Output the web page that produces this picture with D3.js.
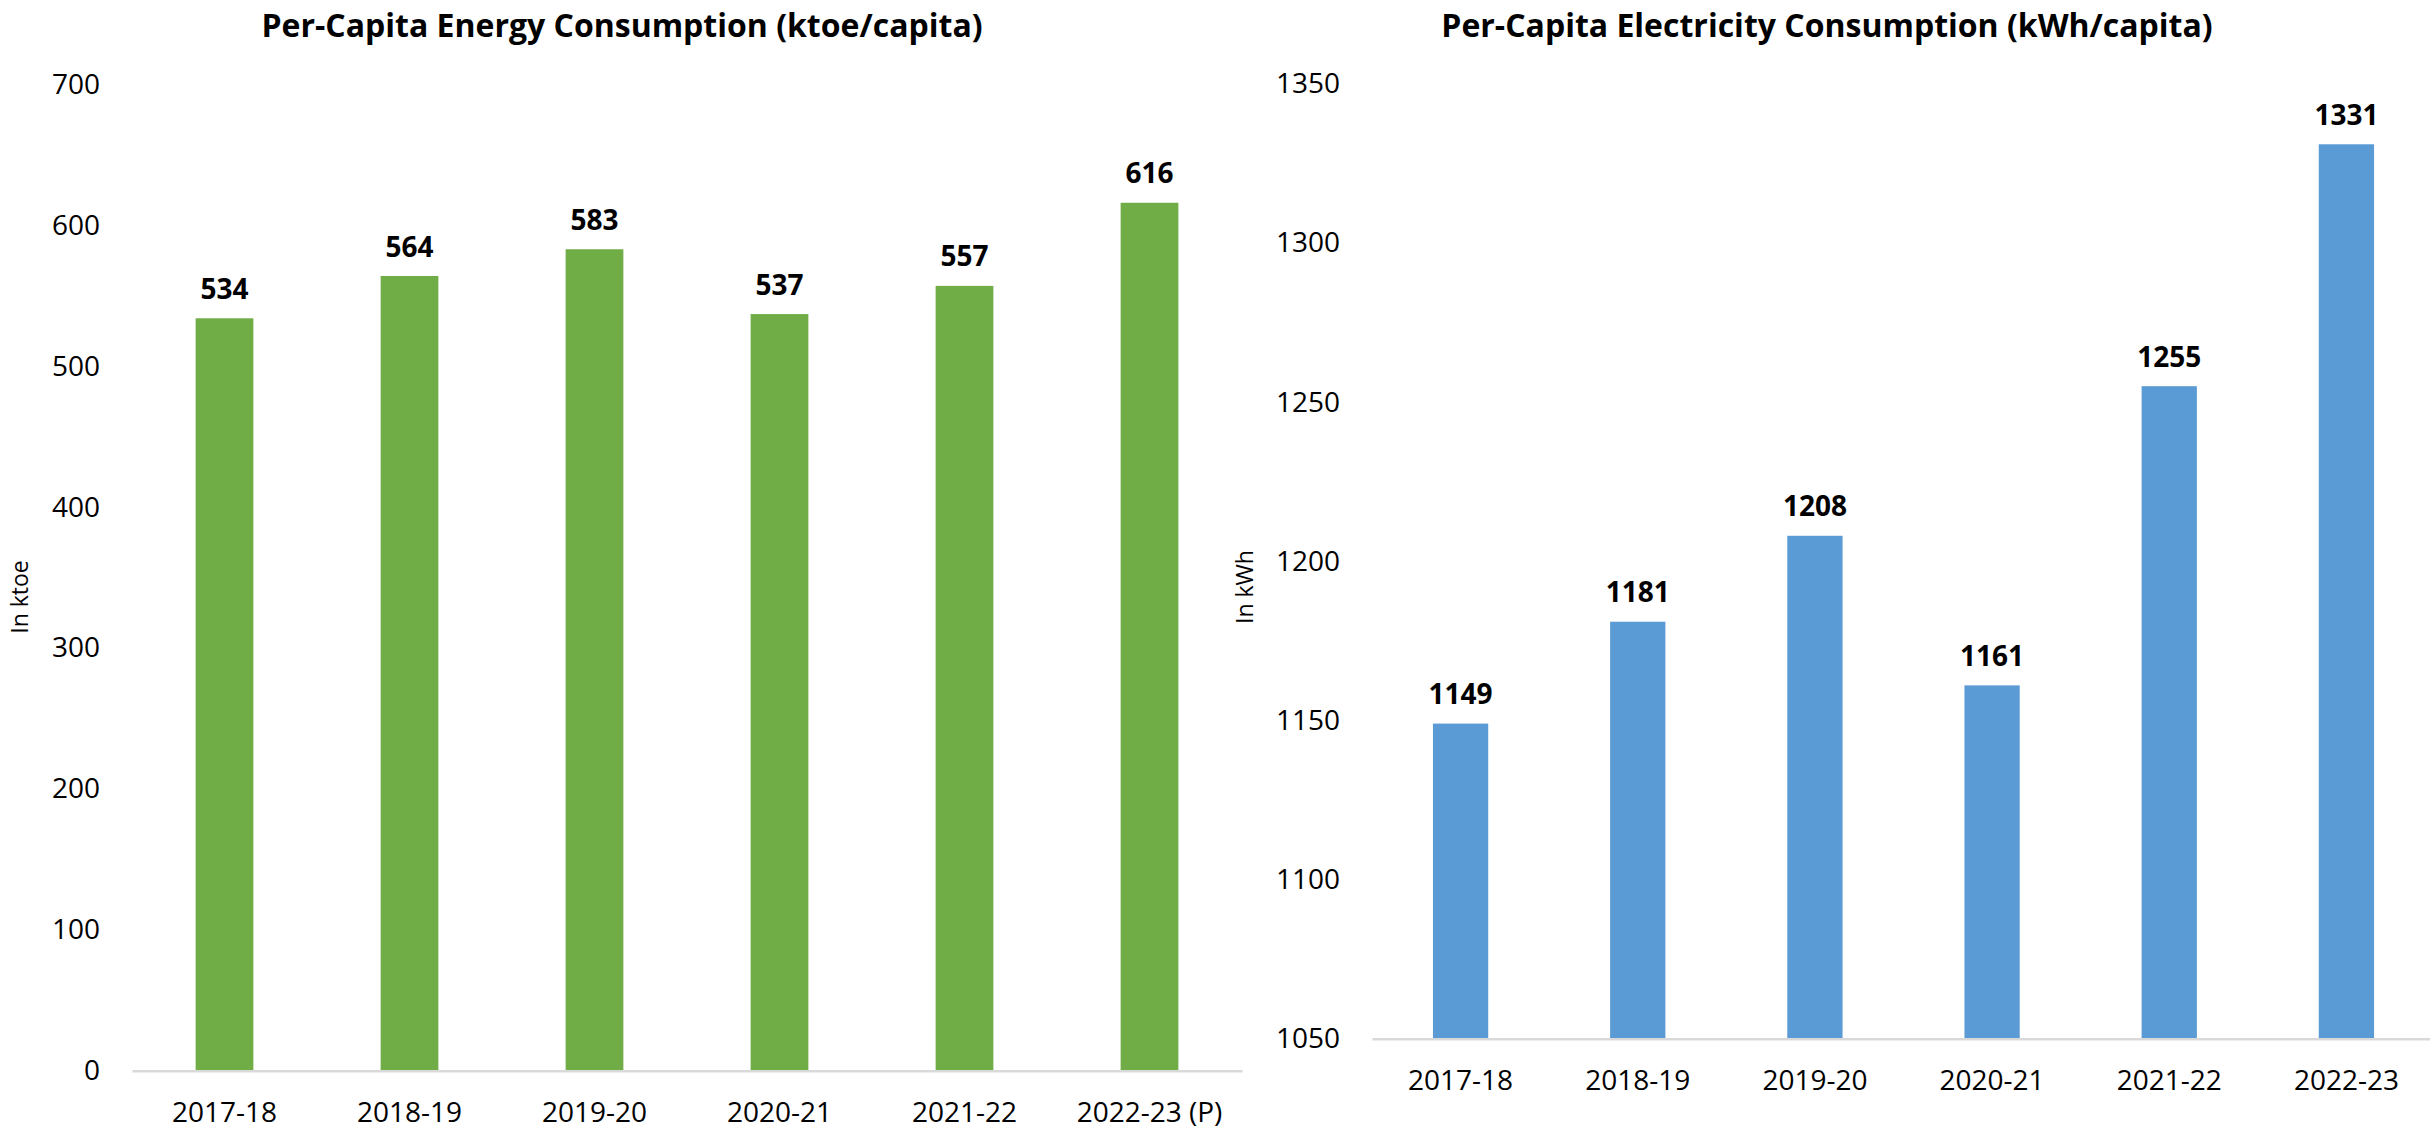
<!DOCTYPE html>
<html>
<head>
<meta charset="utf-8">
<script src="https://cdn.jsdelivr.net/npm/d3@7"></script>
<style>
  html, body { margin: 0; padding: 0; background: #fff; }
  svg { display: block; font-family: "Open Sans", "Noto Sans", sans-serif; }
</style>
</head>
<body>
<svg id="chart" width="2430" height="1129"></svg>
<script>
// Per-capita energy consumption, ktoe/capita
const energyYears = ["2017-18", "2018-19", "2019-20", "2020-21", "2021-22", "2022-23 (P)"];
const energyValues = [534, 564, 583, 537, 557, 616];
const energyTicks = [0, 100, 200, 300, 400, 500, 600, 700];

// Per-capita electricity consumption, kWh/capita
const electricityYears = ["2017-18", "2018-19", "2019-20", "2020-21", "2021-22", "2022-23"];
const electricityValues = [1149, 1181, 1208, 1161, 1255, 1331];
const electricityTicks = [1050, 1100, 1150, 1200, 1250, 1300, 1350];

const FONT = '"Open Sans", "Noto Sans", sans-serif';

const svg = d3.select("#chart");
svg.append("rect").attr("width", 2430).attr("height", 1129).attr("fill", "#fff");

function drawPanel(cfg) {
  const g = svg.append("g");

  const x = d3.scaleBand()
    .domain(cfg.categories)
    .range([cfg.x0, cfg.x1])
    .paddingInner(0.688)
    .paddingOuter(0.344);

  const y = d3.scaleLinear()
    .domain(cfg.domain)
    .range([cfg.yBase, cfg.yTop]);

  // title
  g.append("text")
    .attr("x", cfg.titleX)
    .attr("y", 37)
    .attr("text-anchor", "middle")
    .attr("font-size", 32)
    .attr("font-weight", 700)
    .attr("fill", "#000")
    .text(cfg.title);

  // value axis labels
  const yAxis = g.append("g")
    .attr("transform", `translate(${cfg.x0},0)`)
    .call(d3.axisLeft(y).tickValues(cfg.ticks).tickSize(0).tickPadding(32).tickFormat(d3.format("d")))
    .attr("font-family", FONT)
    .attr("font-size", 28);
  yAxis.select(".domain").remove();
  yAxis.selectAll("text").attr("fill", "#000");

  // axis title
  g.append("text")
    .attr("transform", `translate(${cfg.axisTitleX},${cfg.axisTitleY}) rotate(-90)`)
    .attr("text-anchor", "middle")
    .attr("font-size", 23)
    .attr("fill", "#000")
    .text(cfg.axisTitle);

  // bars
  g.selectAll("rect.bar")
    .data(cfg.values)
    .join("rect")
    .attr("class", "bar")
    .attr("x", (d, i) => x(cfg.categories[i]))
    .attr("width", x.bandwidth())
    .attr("y", d => y(d))
    .attr("height", d => y(cfg.domain[0]) - y(d))
    .attr("fill", cfg.color);

  // value labels
  g.selectAll("text.value")
    .data(cfg.values)
    .join("text")
    .attr("class", "value")
    .attr("x", (d, i) => x(cfg.categories[i]) + x.bandwidth() / 2)
    .attr("y", d => y(d) - 19.5)
    .attr("text-anchor", "middle")
    .attr("font-size", 28)
    .attr("font-weight", 700)
    .attr("fill", "#000")
    .text(d => d);

  // category axis
  const xAxis = g.append("g")
    .attr("transform", `translate(0,${cfg.yBase})`)
    .call(d3.axisBottom(x).tickSize(0).tickSizeOuter(0).tickPadding(31.4))
    .attr("font-family", FONT)
    .attr("font-size", 28);
  xAxis.select(".domain").attr("stroke", "#d9d9d9").attr("stroke-width", 2.5);
  xAxis.selectAll("text").attr("fill", "#000");
}

drawPanel({
  title: "Per-Capita Energy Consumption (ktoe/capita)",
  titleX: 622,
  axisTitle: "In ktoe",
  axisTitleX: 28,
  axisTitleY: 597,
  categories: energyYears,
  values: energyValues,
  ticks: energyTicks,
  domain: [0, 700],
  x0: 132, x1: 1242,
  yBase: 1070.7, yTop: 84.4,
  color: "#70ad47"
});

drawPanel({
  title: "Per-Capita Electricity Consumption (kWh/capita)",
  titleX: 1827,
  axisTitle: "In kWh",
  axisTitleX: 1253,
  axisTitleY: 587,
  categories: electricityYears,
  values: electricityValues,
  ticks: electricityTicks,
  domain: [1050, 1350],
  x0: 1372, x1: 2435,
  yBase: 1038.7, yTop: 83.8,
  color: "#5b9bd5"
});
</script>
</body>
</html>
